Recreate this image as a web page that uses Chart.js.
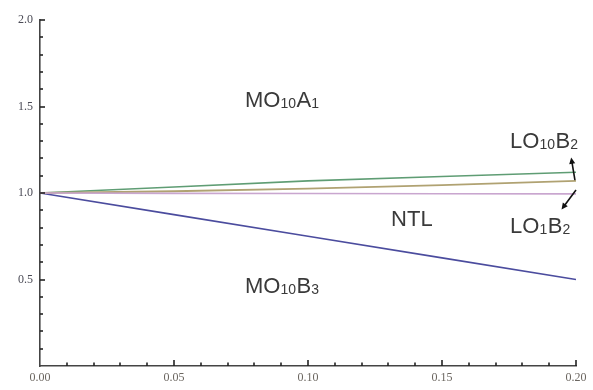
<!DOCTYPE html>
<html>
<head>
<meta charset="utf-8">
<script src="https://cdn.jsdelivr.net/npm/chart.js@4"></script>
<style>
html,body{margin:0;padding:0;background:#fff;}
#wrap{width:593px;height:390px;position:relative;}
</style>
</head>
<body>
<div id="wrap"><canvas id="c" width="593" height="390"></canvas></div>
<script>
// ---- data ----
const xValues   = [0, 0.05, 0.10, 0.15, 0.20];
const mo10b3    = [1.0, 0.875, 0.75, 0.625, 0.50];   // blue, falling
const lo10b2    = [1.0, 1.035, 1.07, 1.095, 1.12];   // green, top
const lo1b2mid  = [1.0, 1.01, 1.025, 1.045, 1.07];   // tan
const ntl       = [1.0, 0.998, 0.997, 0.996, 0.995]; // pink, near 1
const xTickLabels = ['0.00', '0.05', '0.10', '0.15', '0.20'];
const yTickLabels = ['0.5', '1.0', '1.5', '2.0'];

// text annotations (data coordinates), parts: [text, isSubscript]
const notes = [
  { x: 0.0765, y: 1.495, parts: [['MO', 0], ['10', 1], ['A', 0], ['1', 1]] },
  { x: 0.0765, y: 0.42,  parts: [['MO', 0], ['10', 1], ['B', 0], ['3', 1]] },
  { x: 0.131,  y: 0.81,  parts: [['NTL', 0]] },
  { x: 0.1754, y: 1.26,  parts: [['LO', 0], ['10', 1], ['B', 0], ['2', 1]] },
  { x: 0.1754, y: 0.77,  parts: [['LO', 0], ['1', 1], ['B', 0], ['2', 1]] }
];
const arrows = [
  { from: [0.1996, 1.075], to: [0.1982, 1.205] },
  { from: [0.2000, 1.017], to: [0.1946, 0.905] }
];

const pts = ys => xValues.map((x, i) => ({ x: x, y: ys[i] }));

const decorPlugin = {
  id: 'decor',
  afterDraw(chart) {
    const ctx = chart.ctx;
    const xs = chart.scales.x, ys = chart.scales.y;
    const a = chart.chartArea;
    ctx.save();
    // ticks inside the plot
    ctx.strokeStyle = '#222';
    ctx.lineWidth = 1.6;
    xs.ticks.forEach(t => {
      const px = Math.round(xs.getPixelForValue(t.value));
      const major = Math.abs(t.value / 0.05 - Math.round(t.value / 0.05)) < 1e-6;
      if (t.value === 0) return;
      ctx.beginPath();
      ctx.moveTo(px, a.bottom);
      ctx.lineTo(px, a.bottom - (major ? 6 : 3.5));
      ctx.stroke();
    });
    ys.ticks.forEach(t => {
      const py = Math.round(ys.getPixelForValue(t.value));
      const major = Math.abs(t.value / 0.5 - Math.round(t.value / 0.5)) < 1e-6;
      if (t.value === 0) return;
      ctx.beginPath();
      ctx.moveTo(a.left, py);
      ctx.lineTo(a.left + (major ? 5 : 3), py);
      ctx.stroke();
    });
    // text annotations
    ctx.fillStyle = '#3a3a3a';
    ctx.textBaseline = 'alphabetic';
    ctx.textAlign = 'left';
    notes.forEach(n => {
      let px = xs.getPixelForValue(n.x);
      const py = ys.getPixelForValue(n.y);
      n.parts.forEach(([txt, sub]) => {
        ctx.font = sub ? '14px "Liberation Sans", Arial, sans-serif' : '22px "Liberation Sans", Arial, sans-serif';
        ctx.fillText(txt, px, py + (sub ? 1 : 0));
        px += ctx.measureText(txt).width + (sub ? 0.5 : 0);
      });
    });
    // arrows
    ctx.strokeStyle = '#111';
    ctx.fillStyle = '#111';
    ctx.lineWidth = 1.6;
    arrows.forEach(ar => {
      const x1 = xs.getPixelForValue(ar.from[0]), y1 = ys.getPixelForValue(ar.from[1]);
      const x2 = xs.getPixelForValue(ar.to[0]),   y2 = ys.getPixelForValue(ar.to[1]);
      const ang = Math.atan2(y2 - y1, x2 - x1);
      const hl = 7, hw = 0.45;
      ctx.beginPath();
      ctx.moveTo(x1, y1);
      ctx.lineTo(x2 - Math.cos(ang) * 4, y2 - Math.sin(ang) * 4);
      ctx.stroke();
      ctx.beginPath();
      ctx.moveTo(x2, y2);
      ctx.lineTo(x2 - hl * Math.cos(ang - hw), y2 - hl * Math.sin(ang - hw));
      ctx.lineTo(x2 - hl * Math.cos(ang + hw), y2 - hl * Math.sin(ang + hw));
      ctx.closePath();
      ctx.fill();
    });
    ctx.restore();
  }
};

const ds = (label, ys, color, w) => ({
  label: label, data: pts(ys), borderColor: color, backgroundColor: color,
  borderWidth: w, pointRadius: 0, fill: false, tension: 0
});

new Chart(document.getElementById('c'), {
  type: 'line',
  data: {
    datasets: [
      ds('NTL', ntl, '#c9a6cf', 1.6),
      ds('LO1B2', lo1b2mid, '#b0a272', 1.8),
      ds('LO10B2', lo10b2, '#5f9d74', 1.6),
      ds('MO10B3', mo10b3, '#4b4c9e', 1.6)
    ]
  },
  options: {
    responsive: false,
    animation: false,
    events: [],
    layout: { padding: { top: 20, right: 17, left: 0, bottom: 0 } },
    plugins: { legend: { display: false }, tooltip: { enabled: false } },
    scales: {
      x: {
        type: 'linear', min: 0, max: 0.2,
        grid: { display: false, drawTicks: false },
        border: { display: true, color: '#444', width: 1.6 },
        ticks: {
          stepSize: 0.01, autoSkip: false, maxRotation: 0, padding: 5,
          color: '#6b6660',
          font: { family: '"Liberation Serif", serif', size: 12 },
          callback: v => {
            const k = Math.round(v / 0.05);
            return Math.abs(v / 0.05 - k) < 1e-6 ? xTickLabels[k] : '';
          }
        },
        afterFit: s => { s.height = 24; }
      },
      y: {
        min: 0, max: 2.0,
        grid: { display: false, drawTicks: false },
        border: { display: true, color: '#444', width: 1.6 },
        ticks: {
          stepSize: 0.1, autoSkip: false, padding: 7,
          color: '#4a4a55',
          font: { family: '"Liberation Serif", serif', size: 12 },
          callback: v => {
            const k = Math.round(v / 0.5);
            return (k > 0 && Math.abs(v / 0.5 - k) < 1e-6) ? yTickLabels[k - 1] : '';
          }
        },
        afterFit: s => { s.width = 40; }
      }
    }
  },
  plugins: [decorPlugin]
});
</script>
</body>
</html>
